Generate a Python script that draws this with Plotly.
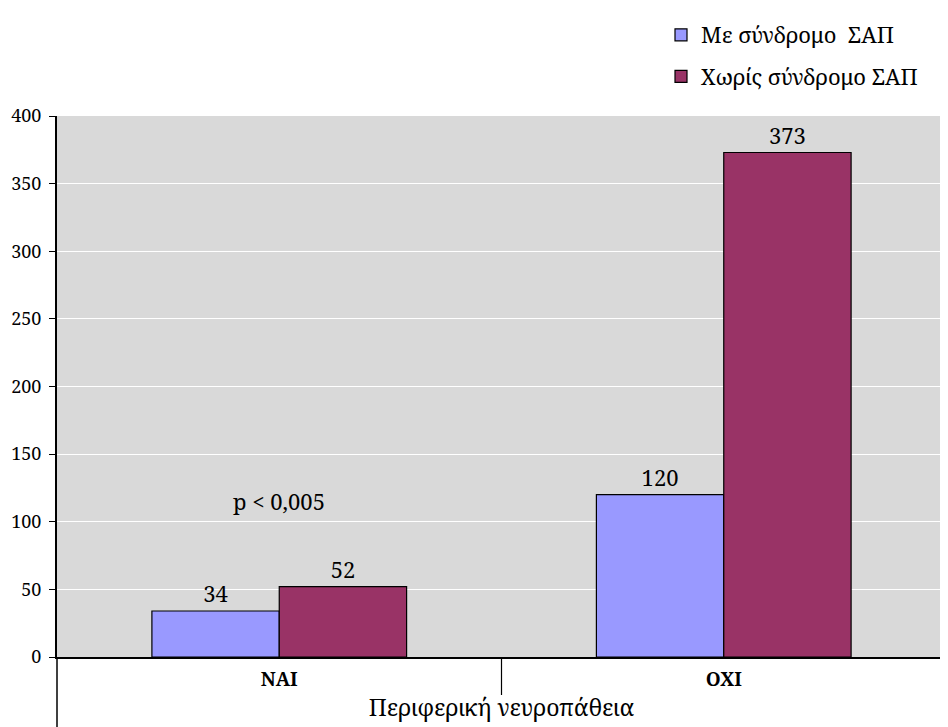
import plotly.graph_objects as go

categories = ["ΝΑΙ", "ΟΧΙ"]
series_names = ["Με σύνδρομο \u00a0ΣΑΠ", "Χωρίς σύνδρομο ΣΑΠ"]
with_sap = [34, 120]
without_sap = [52, 373]
colors = ["#9999FF", "#993366"]
y_ticks = [0, 50, 100, 150, 200, 250, 300, 350, 400]
x_title = "Περιφερική νευροπάθεια"
p_text = "p < 0,005"

FONT = "Noto Serif"

fig = go.Figure()
for i, (name, vals) in enumerate(zip(series_names, [with_sap, without_sap])):
    fig.add_trace(go.Bar(
        x=categories, y=vals, name=name,
        marker=dict(color=colors[i], line=dict(color="black", width=1.2)),
        text=[str(v) for v in vals], textposition="outside",
        textfont=dict(family=FONT, size=22, color="black"),
        cliponaxis=False, legendgroup=f"g{i}",
    ))

W, H = 948, 727
ml, mr, mt, mb = 49, 10, 108, 78
pw, ph = W - ml - mr, H - mt - mb

fig.update_layout(
    width=W, height=H,
    margin=dict(l=ml, r=mr, t=mt, b=mb, autoexpand=False),
    paper_bgcolor="white", plot_bgcolor="#D9D9D9",
    barmode="group", bargap=0.427, bargroupgap=0,
    font=dict(family=FONT, color="black"),
    showlegend=True,
    legend=dict(x=(661 - 57) / pw, y=1 + (mt - 6) / ph, xanchor="left", yanchor="top",
                font=dict(family=FONT, size=22, color="black"),
                tracegroupgap=10, bgcolor="rgba(0,0,0,0)"),
    xaxis=dict(showline=True, linecolor="black", linewidth=1.5, ticks="",
               tickfont=dict(family=FONT, size=19, color="black"),
               tickprefix="<b>", ticksuffix="</b>", automargin=False,
               ticklabelstandoff=4,
               title=dict(text=x_title, font=dict(family=FONT, size=23, color="black"), standoff=9),
               mirror=False),
    yaxis=dict(range=[0, 400], tickvals=y_ticks, showgrid=True, gridcolor="white", gridwidth=1.2,
               showline=True, linecolor="black", linewidth=2, ticks="outside", ticklen=6,
               tickcolor="black", tickfont=dict(family=FONT, size=18, color="black"),
               ticklabelstandoff=4, zeroline=False, automargin=False),
    annotations=[dict(x=0, y=115, xref="x", yref="y", text=p_text, showarrow=False,
                      font=dict(family=FONT, size=22, color="black"))],
    shapes=[
        dict(type="line", xref="paper", yref="paper", x0=0, x1=0, y0=0, y1=-(mb) / ph,
             line=dict(color="black", width=1.5)),
        dict(type="line", xref="paper", yref="paper", x0=0.5, x1=0.5, y0=0, y1=-38 / ph,
             line=dict(color="black", width=1.2)),
        dict(type="line", xref="paper", yref="paper", x0=1, x1=1, y0=0, y1=-(mb) / ph,
             line=dict(color="black", width=1.2)),
    ],
)

fig.write_html("out.html")
